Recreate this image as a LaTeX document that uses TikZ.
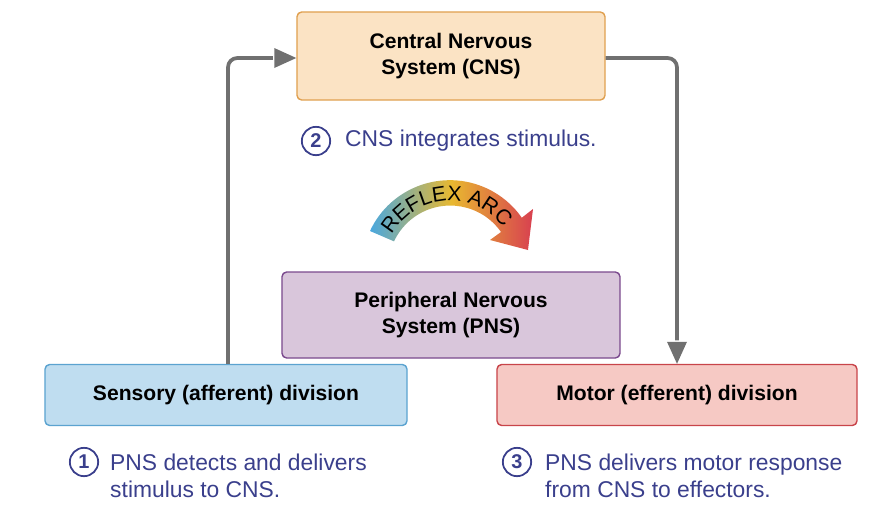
\documentclass[tikz,border=0pt]{standalone}
\usepackage{fontspec}
\setmainfont{Liberation Sans}
\usetikzlibrary{decorations.text}
\definecolor{arrowgray}{HTML}{707070}
\definecolor{steptext}{HTML}{3A3F8C}

\begin{document}
\begin{tikzpicture}[x=0.03cm, y=0.03cm, line join=round]
  \tikzset{box/.style={rectangle, rounded corners=4pt, line width=1.2pt,
      font=\fontsize{18}{22}\selectfont\bfseries, align=center},
    link/.style={draw=arrowgray, line width=3.2pt, rounded corners=8pt},
    stepmark/.style={circle, draw=steptext, line width=1.5pt, text=steptext,
      inner sep=0pt, minimum size=0.85cm, font=\fontsize{17}{20}\selectfont\bfseries},
    note/.style={text=steptext, font=\fontsize{19.5}{23}\selectfont, align=left, anchor=west, inner sep=0pt}}
  \useasboundingbox (0,0) rectangle (886,-532);

  % Place nodes
  \node [box, fill={rgb,255:red,251;green,227;blue,196}, draw={rgb,255:red,224;green,160;blue,80},
    minimum width=9.24cm, minimum height=2.64cm] (cns) at (451,-56) {Central Nervous\\System (CNS)};
  \node [box, fill={rgb,255:red,217;green,198;blue,219}, draw={rgb,255:red,123;green,74;blue,142},
    minimum width=10.14cm, minimum height=2.58cm] (pns) at (451,-315) {Peripheral Nervous\\System (PNS)};
  \node [box, fill={rgb,255:red,191;green,221;blue,240}, draw={rgb,255:red,91;green,163;blue,208},
    minimum width=10.86cm, minimum height=1.83cm] (sensory) at (226,-395) {Sensory (afferent) division};
  \node [box, fill={rgb,255:red,246;green,201;blue,196}, draw={rgb,255:red,200;green,68;blue,74},
    minimum width=10.8cm, minimum height=1.83cm] (motor) at (677,-395) {Motor (efferent) division};

  \node [stepmark] (s2) at (316,-141) {2};
  \node [note] (t2) at (345,-141) {CNS integrates stimulus.};
  \node [stepmark] (s1) at (84,-462) {1};
  \node [note] (t1) at (110,-476) {PNS detects and delivers\\stimulus to CNS.};
  \node [stepmark] (s3) at (517,-462) {3};
  \node [note] (t3) at (545,-476) {PNS delivers motor response\\from CNS to effectors.};

  \coordinate (upleft) at (228,-58);
  \coordinate (upright) at (677,-58);

  % Draw edges
  \draw [link] (sensory.north -| upleft) -- (upleft) -- ([xshift=-20]cns.west |- upleft);
  \fill [arrowgray] (cns.west |- upleft) -- ++(-22,10) -- ++(0,-20) -- cycle;
  \draw [link] (cns.east |- upright) -- (upright) -- ([yshift=20]motor.north -| upright);
  \fill [arrowgray] (motor.north -| upright) -- ++(-10,22) -- ++(20,0) -- cycle;

  % Reflex arc
  \shade [left color={rgb,255:red,74;green,168;blue,223}, right color={rgb,255:red,216;green,64;blue,80},
    middle color={rgb,255:red,232;green,184;blue,48}]
    (370,-231) arc [start angle=155, end angle=35, radius=88]
    -- (533,-209) -- (528,-250) -- (490,-240) -- (501,-232)
    arc [start angle=35, end angle=155, radius=62] -- cycle;
  \path [decorate, decoration={text along path, text align=center,
      text={|\fontsize{18}{21}\selectfont|REFLEX ARC}}]
    (450,-268) ++(160:67) arc [start angle=160, end angle=28, radius=67];
\end{tikzpicture}
\end{document}
